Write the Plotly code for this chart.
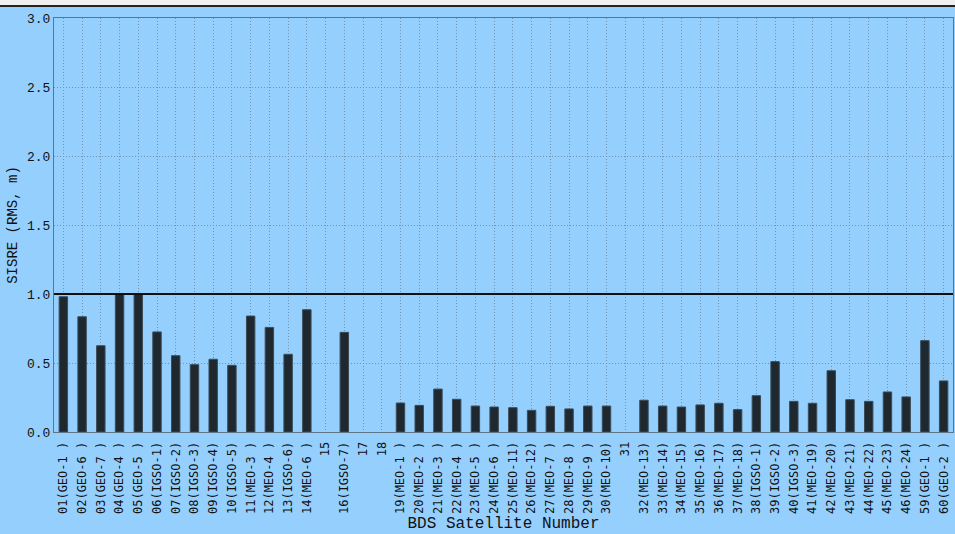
import plotly.graph_objects as go

# BDS satellite labels (PRN + orbit slot) and SISRE RMS values in metres
satellites = [
    "01(GEO-1 )", "02(GEO-6 )", "03(GEO-7 )", "04(GEO-4 )", "05(GEO-5 )",
    "06(IGSO-1)", "07(IGSO-2)", "08(IGSO-3)", "09(IGSO-4)", "10(IGSO-5)",
    "11(MEO-3 )", "12(MEO-4 )", "13(IGSO-6)", "14(MEO-6 )", "15",
    "16(IGSO-7)", "17", "18", "19(MEO-1 )", "20(MEO-2 )",
    "21(MEO-3 )", "22(MEO-4 )", "23(MEO-5 )", "24(MEO-6 )", "25(MEO-11)",
    "26(MEO-12)", "27(MEO-7 )", "28(MEO-8 )", "29(MEO-9 )", "30(MEO-10)",
    "31", "32(MEO-13)", "33(MEO-14)", "34(MEO-15)", "35(MEO-16)",
    "36(MEO-17)", "37(MEO-18)", "38(IGSO-1)", "39(IGSO-2)", "40(IGSO-3)",
    "41(MEO-19)", "42(MEO-20)", "43(MEO-21)", "44(MEO-22)", "45(MEO-23)",
    "46(MEO-24)", "59(GEO-1 )", "60(GEO-2 )",
]

sisre_rms = [
    0.98, 0.835, 0.625, 1.00, 1.00,
    0.725, 0.553, 0.488, 0.527, 0.483,
    0.84, 0.758, 0.563, 0.886, None,
    0.722, None, None, 0.21, 0.193,
    0.311, 0.237, 0.188, 0.181, 0.176,
    0.157, 0.186, 0.167, 0.188, 0.188,
    None, 0.23, 0.188, 0.181, 0.196,
    0.208, 0.162, 0.263, 0.51, 0.222,
    0.208, 0.444, 0.234, 0.222, 0.29,
    0.254, 0.662, 0.37,
]

threshold = 1.0
y_ticks = [0.0, 0.5, 1.0, 1.5, 2.0, 2.5, 3.0]
y_tick_text = ["0.0", "0.5", "1.0", "1.5", "2.0", "2.5", "3.0"]

bg = "#95cffd"
mono = "Liberation Mono"
tick_mono = "DejaVu Sans Mono"

fig = go.Figure(
    go.Bar(
        x=satellites,
        y=sisre_rms,
        width=0.45,
        marker=dict(color="#1f282f", line=dict(color="#3b4b57", width=1)),
    )
)

# threshold line at 1.0 m
fig.add_shape(
    type="line", xref="paper", yref="y",
    x0=0, x1=1, y0=threshold, y1=threshold,
    line=dict(color="#101010", width=2),
)

# window-style strip across the top edge
fig.add_shape(
    type="rect", xref="paper", yref="paper",
    x0=-0.1, x1=1.1, y0=1 + 12 / 414, y1=1 + 19 / 414,
    fillcolor="#efefef", line=dict(width=0), layer="above",
)
fig.add_shape(
    type="line", xref="paper", yref="paper",
    x0=-0.1, x1=1.1, y0=1 + 12 / 414, y1=1 + 12 / 414,
    line=dict(color="#222222", width=2), layer="above",
)

axis_line = "#5f7484"
grid = "#7193b0"

fig.update_layout(
    width=955, height=534,
    margin=dict(l=54, r=2, t=18, b=102),
    paper_bgcolor=bg, plot_bgcolor=bg,
    showlegend=False,
    font=dict(family=mono, color="#111111"),
    xaxis=dict(
        type="category",
        tickangle=-90,
        tickfont=dict(family=tick_mono, size=12, color="#111111"),
        showgrid=True, gridcolor=grid, griddash="1px,2px", gridwidth=1,
        showline=True, linecolor=axis_line, linewidth=1, mirror=True,
        ticks="outside", ticklen=4, tickcolor=bg,
        title=dict(text="BDS Satellite Number",
                   font=dict(family=mono, size=16, color="#111111"),
                   standoff=3),
    ),
    yaxis=dict(
        range=[0, 3.0],
        tickvals=y_ticks, ticktext=y_tick_text,
        tickfont=dict(family=mono, size=13, color="#111111"),
        showgrid=True, gridcolor=grid, griddash="1px,2px", gridwidth=1,
        showline=True, linecolor=axis_line, linewidth=1, mirror=True,
        zeroline=False,
        ticks="",
        title=dict(text="SISRE (RMS, m)",
                   font=dict(family=mono, size=14, color="#111111"),
                   standoff=6),
    ),
)

fig.write_html("out.html")
